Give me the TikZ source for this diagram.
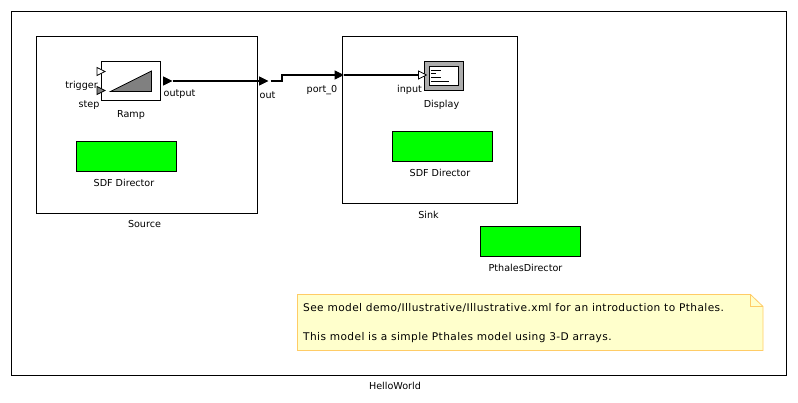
\documentclass[tikz,border=0pt]{standalone}
\usepackage{fontspec}
\setmainfont{DejaVu Sans}
\newfontfamily\notefont[LetterSpace=3.8]{DejaVu Sans}
\usetikzlibrary{shapes.geometric,calc}

\definecolor{notefill}{RGB}{255,255,204}
\definecolor{noteline}{RGB}{255,204,102}

\tikzset{
    boxed/.style={draw, line width=1pt, fill=white, anchor=north west, inner sep=0pt},
    director/.style={draw, line width=0.8pt, fill=green, minimum width=100pt, minimum height=30pt, inner sep=0pt},
    lbl/.style={font=\fontsize{9.6pt}{11pt}\selectfont, inner sep=0pt},
    notelbl/.style={font=\notefont\fontsize{10.6pt}{12pt}\selectfont, anchor=west, inner sep=0pt},
    portmark/.style={shape=isosceles triangle, isosceles triangle stretches, draw, line width=0.8pt,
        minimum width=8pt, minimum height=8pt, inner sep=0pt},
    relation/.style={line width=1.9pt, line cap=butt},
}

\begin{document}
\begin{tikzpicture}[x=1pt, y=-1pt]
\useasboundingbox (0,0) rectangle (798,403);

% Outer frame
\node[boxed, minimum width=775pt, minimum height=364pt] (frame) at (11,11) {};
\node[lbl] (hello) at (395,386) {HelloWorld};

% Source
\node[boxed, minimum width=221pt, minimum height=177pt] (source) at (36,36) {};
\node[lbl] (sourcelbl) at (144.5,224.5) {Source};

% Sink
\node[boxed, minimum width=175pt, minimum height=167pt] (sink) at (342,36) {};
\node[lbl] (sinklbl) at (428.5,214.5) {Sink};

% Ramp
\node[boxed, minimum width=59pt, minimum height=39pt] (ramp) at (101,61) {};
\fill[gray, draw=black, line width=0.8pt] (110.5,91.5) -- (151.5,71) -- (151.5,91.5) -- cycle;
\node[lbl] (ramplbl) at (131,115) {Ramp};

\node[portmark, fill=white] (trigger) at (99.5,71.5) {};
\node[portmark, fill=gray] (step) at (99.5,90.5) {};
\node[portmark, fill=black] (output) at (166,81) {};
\node[lbl] (triggerlbl) at (81.5,86) {trigger};
\node[lbl] (steplbl) at (89,105) {step};
\node[lbl, anchor=west] (outputlbl) at (163.5,94.5) {output};

% Ports on the composite edges
\node[portmark, fill=black] (out) at (262,81) {};
\node[lbl, anchor=west] (outlbl) at (259.5,95) {out};
\node[portmark, fill=black] (port0) at (337.5,75) {};
\node[lbl] (port0lbl) at (322,90) {port\_0};

% Display
\node[draw, line width=0.8pt, fill=gray!65, minimum width=39pt, minimum height=29pt, inner sep=0pt] (display) at (443.5,75.5) {};
\node[draw, line width=0.8pt, fill=white, minimum width=29pt, minimum height=19pt, inner sep=0pt] (screen) at (443.5,75.5) {};
\draw[line width=0.7pt] (431,70.5) -- (441,70.5);
\draw[line width=0.7pt] (431,73.5) -- (436,73.5);
\draw[line width=0.7pt] (431,77.5) -- (441,77.5);
\draw[line width=0.7pt] (431,81.5) -- (449,81.5);
\node[portmark, fill=white] (input) at (421,75) {};
\node[lbl] (inputlbl) at (409.5,90) {input};
\node[lbl] (displaylbl) at (441.5,105) {Display};

% Directors
\node[director] (srcdir) at (126.5,156.5) {};
\node[lbl] (srcdirlbl) at (124,183) {SDF Director};
\node[director] (sinkdir) at (442.5,146.5) {};
\node[lbl] (sinkdirlbl) at (440,173) {SDF Director};
\node[director] (pthales) at (530.5,241.5) {};
\node[lbl] (pthaleslbl) at (525.5,268) {PthalesDirector};

% Relations
\draw[relation] (output.east) -- (out.west);
\draw[relation] (out.east) ++(2,0) -| (282,75) -- (port0.west);
\draw[line width=1.2pt] (port0.east) -- (input.west);

% Note
\draw[noteline, fill=notefill, line width=0.8pt]
    (297.5,294.5) -- (750.5,294.5) -- (763,306.5) -- (763,350.5) -- (297.5,350.5) -- cycle;
\draw[noteline, line width=0.8pt] (750.5,294.5) -- (750.5,306.5) -- (763,306.5);
\node[notelbl] (note1) at (303,307.5)
    {See model demo/Illustrative/Illustrative.xml for an introduction to Pthales.};
\node[notelbl] (note2) at (303,337.5)
    {This model is a simple Pthales model using 3-D arrays.};

\end{tikzpicture}
\end{document}
